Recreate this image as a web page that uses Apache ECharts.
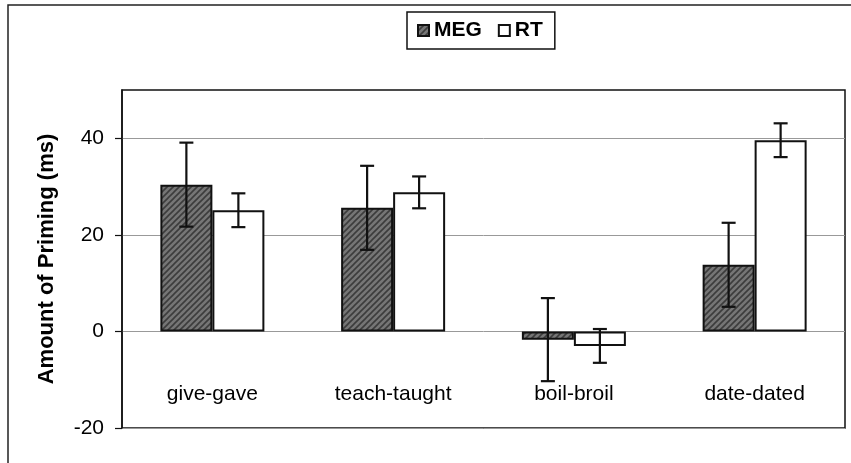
<!DOCTYPE html>
<html>
<head>
<meta charset="utf-8">
<script src="https://cdn.jsdelivr.net/npm/echarts@6/dist/echarts.min.js"></script>
<style>
  html, body { margin: 0; padding: 0; background: #fff; }
  #chart { width: 851px; height: 463px; }
</style>
</head>
<body>
<div id="chart"></div>
<script>
// data
var categories = ['give-gave', 'teach-taught', 'boil-broil', 'date-dated'];
var megValues = [30.4, 25.6, -1.7, 13.8];
var megErrors = [8.7, 8.7, 8.6, 8.7];
var rtValues = [25.1, 28.8, -3.0, 39.6];
var rtErrors = [3.5, 3.3, 3.5, 3.5];
var yTicks = [-20, 0, 20, 40];

// hatched dark grey fill for MEG
function hatch() {
  var c = document.createElement('canvas');
  c.width = 6; c.height = 6;
  var ctx = c.getContext('2d');
  ctx.fillStyle = '#767676';
  ctx.fillRect(0, 0, 6, 6);
  ctx.strokeStyle = '#3c3c3c';
  ctx.lineWidth = 1.6;
  ctx.beginPath();
  ctx.moveTo(0, 6); ctx.lineTo(6, 0);
  ctx.moveTo(-3, 3); ctx.lineTo(3, -3);
  ctx.moveTo(3, 9); ctx.lineTo(9, 3);
  ctx.stroke();
  return c;
}

var barW = 52;

function errorSeries(name, values, errors, offset, capW) {
  return {
    name: name + ' err',
    type: 'custom',
    z: 5,
    data: values.map(function (v, i) { return [i, v - errors[i], v + errors[i]]; }),
    renderItem: function (params, api) {
      var lo = api.coord([api.value(0), api.value(1)]);
      var hi = api.coord([api.value(0), api.value(2)]);
      var x = lo[0] + offset;
      var st = { stroke: '#111', lineWidth: 2.2 };
      return {
        type: 'group',
        children: [
          { type: 'line', shape: { x1: x, y1: lo[1], x2: x, y2: hi[1] }, style: st },
          { type: 'line', shape: { x1: x - capW / 2, y1: lo[1], x2: x + capW / 2, y2: lo[1] }, style: st },
          { type: 'line', shape: { x1: x - capW / 2, y1: hi[1], x2: x + capW / 2, y2: hi[1] }, style: st }
        ]
      };
    },
    encode: { x: 0, y: [1, 2] },
    silent: true
  };
}

var chart = echarts.init(document.getElementById('chart'));
chart.setOption({
  animation: false,
  textStyle: { fontFamily: 'Liberation Sans, Arial, sans-serif', color: '#000' },
  graphic: [{
    type: 'rect',
    shape: { x: 8, y: 5, width: 860, height: 480 },
    style: { fill: 'none', stroke: '#222', lineWidth: 1.5 },
    silent: true
  }],
  legend: {
    top: 12,
    left: 407,
    data: ['MEG', 'RT'],
    icon: 'rect',
    itemWidth: 11,
    itemHeight: 11,
    itemGap: 16,
    padding: [8, 12, 8, 10],
    borderColor: '#111',
    borderWidth: 1.5,
    textStyle: { fontSize: 21, fontWeight: 'bold', color: '#000' }
  },
  grid: {
    left: 122, right: 6, top: 90, bottom: 35,
    outerBoundsMode: 'none',
    show: true, borderColor: '#111', borderWidth: 1.5, backgroundColor: 'transparent'
  },
  xAxis: {
    type: 'category',
    data: categories,
    axisLine: { show: false },
    axisTick: { show: false },
    axisLabel: { margin: -44, fontSize: 21, color: '#000' }
  },
  yAxis: {
    type: 'value',
    min: -20, max: 50, interval: 20,
    name: 'Amount of Priming (ms)',
    nameLocation: 'middle',
    nameGap: 64,
    nameRotate: 90,
    nameTextStyle: { fontSize: 22, fontWeight: 'bold', color: '#000' },
    axisLine: { show: true, lineStyle: { color: '#111', width: 1.5 } },
    axisTick: { show: true, length: 7, customValues: yTicks, lineStyle: { color: '#111', width: 1.2 } },
    axisLabel: {
      fontSize: 21, color: '#000', margin: 18, customValues: yTicks,
      formatter: function (v) { return yTicks.indexOf(v) >= 0 ? String(v) : ''; }
    },
    splitLine: { lineStyle: { color: '#999', width: 1 } }
  },
  series: [
    {
      name: 'MEG', type: 'bar', data: megValues, barWidth: barW, barGap: '0%',
      itemStyle: { color: { image: hatch(), repeat: 'repeat' }, borderColor: '#111', borderWidth: 2 }
    },
    {
      name: 'RT', type: 'bar', data: rtValues, barWidth: barW, barGap: '0%',
      itemStyle: { color: '#fff', borderColor: '#111', borderWidth: 2 }
    },
    errorSeries('MEG', megValues, megErrors, -barW / 2, 14),
    errorSeries('RT', rtValues, rtErrors, barW / 2, 14)
  ]
});
</script>
</body>
</html>
